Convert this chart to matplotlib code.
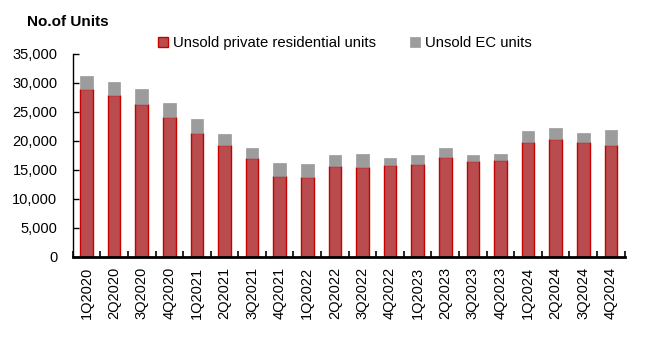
import numpy as np
import matplotlib
matplotlib.use("Agg")
import matplotlib.pyplot as plt

quarters = ["1Q2020", "2Q2020", "3Q2020", "4Q2020",
            "1Q2021", "2Q2021", "3Q2021", "4Q2021",
            "1Q2022", "2Q2022", "3Q2022", "4Q2022",
            "1Q2023", "2Q2023", "3Q2023", "4Q2023",
            "1Q2024", "2Q2024", "3Q2024", "4Q2024"]
# stacked totals; EC = total - private
private_units = [28900, 27870, 26380, 24090, 21380, 19260, 17020, 13910,
                 13740, 15630, 15460, 15810, 16030, 17190, 16500, 16670,
                 19770, 20290, 19770, 19260]
total_units = [31150, 30100, 28900, 26500, 23740, 21150, 18700, 16150,
               15980, 17530, 17700, 17020, 17530, 18690, 17530, 17700,
               21670, 22190, 21330, 21840]
ec_units = [t - p for t, p in zip(total_units, private_units)]

plt.rcParams["font.family"] = ["Liberation Sans", "DejaVu Sans"]

fig = plt.figure(figsize=(6.5, 3.37), dpi=100)
ax = fig.add_axes([72.7 / 650, 1 - 257 / 337, (624.7 - 72.7) / 650, (257 - 53.7) / 337])

x = np.arange(len(quarters))
w = 0.46
ax.bar(x, private_units, width=w, color="#b94c4e", edgecolor="#c80000",
       linewidth=1.0, label="Unsold private residential units")
ax.bar(x, ec_units, bottom=private_units, width=w, color="#9c9c9c",
       edgecolor="#9c9c9c", linewidth=0.5, label="Unsold EC units")

ax.set_xlim(-0.5, len(quarters) - 0.5)
ax.set_ylim(0, 35000)
ax.set_yticks(np.arange(0, 35001, 5000))
ax.set_yticklabels([f"{v:,}" for v in range(0, 35001, 5000)], fontsize=10.5)

ax.set_xticks(x)
ax.set_xticklabels(quarters, rotation=90, fontsize=10.5)
ax.tick_params(axis="x", length=0, pad=7)
ax.set_xticks(np.arange(-0.5, len(quarters)), minor=True)
ax.tick_params(axis="x", which="minor", direction="in", length=4, width=1.2)
ax.tick_params(axis="y", direction="in", length=4, width=1, pad=11)

for s in ["top", "right"]:
    ax.spines[s].set_visible(False)
ax.spines["bottom"].set_linewidth(2)
ax.spines["left"].set_linewidth(1)

fig.text(27 / 650, 1 - 22 / 337, "No.of Units", fontsize=11, fontweight="bold",
         va="center", ha="left")

ax.legend(loc="center", bbox_to_anchor=((345 - 72.7) / 552, (257 - 43) / 203.3),
          ncol=2, frameon=False, fontsize=10.7, handlelength=0.65,
          handleheight=0.65, handletextpad=0.35, columnspacing=2.3,
          borderpad=0, borderaxespad=0)

fig.savefig("out.png", dpi=100)
